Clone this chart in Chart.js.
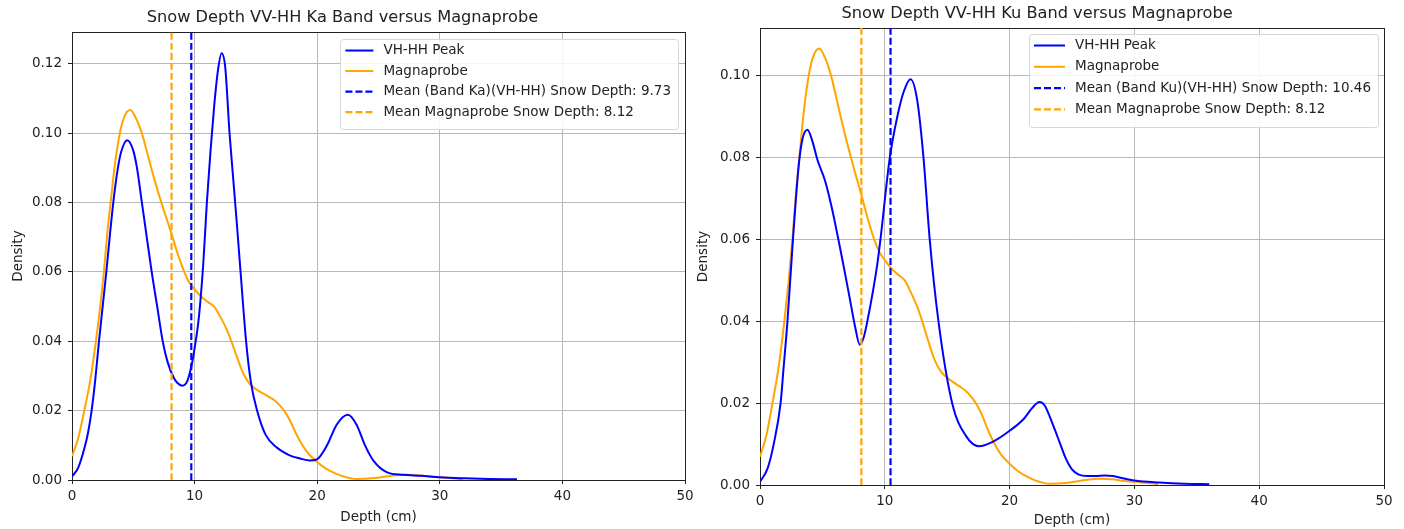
<!DOCTYPE html>
<html>
<head>
<meta charset="utf-8">
<title>Snow depth density</title>
<script src="https://cdn.jsdelivr.net/npm/chart.js@4/dist/chart.umd.min.js"></script>
<style>
  html, body { margin: 0; padding: 0; background: #fff; }
  #wrap { position: relative; width: 1404px; height: 529px; overflow: hidden; }
  canvas { position: absolute; top: 0; }
  #kaChart { left: 0; }
  #kuChart { left: 690px; }
</style>
</head>
<body>
<div id="wrap">
  <canvas id="kaChart" width="700" height="529"></canvas>
  <canvas id="kuChart" width="714" height="529"></canvas>
</div>
<script>
// Ka band VH-HH density (depth cm / density)
const kaDepth = [0, 0.5, 1.0, 1.3, 1.6, 1.9, 2.2, 2.5, 2.8, 3.1, 3.4, 3.7, 4.0, 4.5, 5.0, 5.3, 5.7, 6.1, 6.5, 6.95, 7.4, 7.8, 8.3, 8.6, 9.0, 9.4, 9.75, 10.0, 10.35, 10.7, 11.0, 11.3, 11.6, 11.9, 12.2, 12.5, 12.85, 13.1, 13.4, 13.75, 14.2, 14.6, 15.1, 15.8, 16.65, 17.7, 18.6, 19.4, 20.0, 20.8, 21.6, 22.5, 23.2, 23.9, 24.6, 25.7, 27, 28.5, 30, 32, 34, 36.3];
const kaDensity = [0.001, 0.0035, 0.009, 0.0135, 0.02, 0.029, 0.04, 0.05, 0.06, 0.071, 0.081, 0.089, 0.0945, 0.098, 0.095, 0.09, 0.08, 0.07, 0.06, 0.05, 0.04, 0.034, 0.0295, 0.028, 0.0272, 0.0285, 0.033, 0.038, 0.047, 0.062, 0.08, 0.095, 0.108, 0.118, 0.1231, 0.119, 0.10, 0.089, 0.076, 0.06, 0.04, 0.028, 0.02, 0.013, 0.0095, 0.0072, 0.0062, 0.0056, 0.006, 0.01, 0.016, 0.0188, 0.016, 0.01, 0.0055, 0.0022, 0.0015, 0.0012, 0.0008, 0.0005, 0.0003, 0.0002];

// Ku band VH-HH density
const kuDepth = [0, 0.6, 1.1, 1.65, 1.9, 2.2, 2.64, 3.1, 3.4, 3.8, 4.2, 4.6, 5.2, 5.7, 6.25, 6.7, 7.2, 7.6, 8.0, 8.3, 8.6, 9.4, 9.65, 10.4, 11.0, 11.5, 12.06, 12.6, 13.1, 13.6, 14.3, 15.4, 16.5, 17.55, 18.6, 19.7, 21.15, 21.8, 22.4, 22.8, 23.5, 24.0, 24.5, 25.0, 25.5, 26.2, 26.9, 27.6, 28.3, 29.0, 30, 32, 34, 36];
const kuDensity = [0.0008, 0.004, 0.01, 0.02, 0.029, 0.04, 0.06, 0.078, 0.0845, 0.0868, 0.084, 0.0795, 0.0745, 0.0685, 0.0605, 0.0535, 0.0455, 0.039, 0.0343, 0.036, 0.04, 0.054, 0.06, 0.08, 0.09, 0.096, 0.0992, 0.094, 0.08, 0.06, 0.04, 0.02, 0.012, 0.0095, 0.0105, 0.0126, 0.0162, 0.0188, 0.0203, 0.0195, 0.0145, 0.0105, 0.0065, 0.0038, 0.0026, 0.0022, 0.0022, 0.0023, 0.0022, 0.0017, 0.0011, 0.0006, 0.0003, 0.0002];

// Magnaprobe density (same in both panels)
const magDepth = [0, 0.5, 1.0, 1.5, 1.95, 2.3, 2.6, 2.9, 3.15, 3.5, 3.9, 4.3, 4.75, 5.2, 5.7, 6.2, 6.7, 7.2, 7.7, 8.1, 8.6, 9.1, 9.55, 10.0, 10.5, 11.1, 11.6, 12.1, 12.6, 13.0, 13.5, 14.0, 14.5, 15.0, 15.5, 16.0, 16.5, 17.0, 17.4, 17.8, 18.3, 18.8, 19.3, 19.9, 20.5, 21, 22, 23.2, 24.5, 25.8, 27.2, 28.2, 29.2, 30, 31.9];
const magDensity = [0.0069, 0.012, 0.02, 0.029, 0.04, 0.05, 0.06, 0.072, 0.08, 0.091, 0.10, 0.105, 0.1067, 0.1045, 0.10, 0.0935, 0.087, 0.081, 0.0755, 0.0712, 0.0655, 0.0605, 0.057, 0.055, 0.053, 0.0513, 0.05, 0.047, 0.0436, 0.04, 0.035, 0.0305, 0.0277, 0.0262, 0.0251, 0.0241, 0.023, 0.0213, 0.0195, 0.017, 0.0132, 0.01, 0.0075, 0.0055, 0.0038, 0.0027, 0.0012, 0.0003, 0.0005, 0.0011, 0.0015, 0.0014, 0.001, 0.0008, 0.0002];

// means shown as dashed vertical lines
const kaMean = 9.73;
const kuMean = 10.46;
const magMean = 8.12;

const xTicks = [0, 10, 20, 30, 40, 50];
const yTicksKa = [0, 0.02, 0.04, 0.06, 0.08, 0.10, 0.12];
const yTicksKu = [0, 0.02, 0.04, 0.06, 0.08, 0.10];

const BLUE = '#0000ff';
const ORANGE = '#ffa500';
const FONT = "'DejaVu Sans', sans-serif";

function points(xs, ys) {
  return xs.map((x, i) => ({ x: x, y: ys[i] }));
}

// Top/right spines plus frame
const framePlugin = {
  id: 'frame',
  beforeDatasetsDraw(chart) {
    const { ctx, chartArea: a } = chart;
    ctx.save();
    ctx.strokeStyle = '#222';
    ctx.lineWidth = 1;
    ctx.strokeRect(Math.round(a.left) + 0.5, Math.round(a.top) + 0.5, Math.round(a.right - a.left), Math.round(a.bottom - a.top));
    ctx.restore();
  }
};

// matplotlib style legend in the upper right
const legendPlugin = {
  id: 'mplLegend',
  afterDraw(chart, args, opts) {
    const { ctx, chartArea: a } = chart;
    const items = chart.data.datasets;
    ctx.save();
    ctx.font = '13.5px ' + FONT;
    let textW = 0;
    items.forEach(d => { textW = Math.max(textW, ctx.measureText(d.label).width); });
    const pad = 5, sample = opts.sample, gap = 10, rowH = opts.rowH;
    const w = pad + sample + gap + textW + 7;
    const h = rowH * items.length + 8;
    const x0 = a.right - opts.inset - w;
    const y0 = a.top + opts.inset;
    ctx.fillStyle = 'rgba(255,255,255,0.85)';
    ctx.strokeStyle = '#d6d6d6';
    ctx.lineWidth = 1;
    ctx.beginPath();
    ctx.roundRect(Math.round(x0) + 0.5, Math.round(y0) + 0.5, Math.round(w), Math.round(h), 3);
    ctx.fill();
    ctx.stroke();
    items.forEach((d, i) => {
      const cy = y0 + 11.5 + i * rowH;
      ctx.strokeStyle = d.borderColor;
      ctx.lineWidth = d.borderWidth;
      ctx.setLineDash(d.borderDash || []);
      ctx.beginPath();
      ctx.moveTo(x0 + pad, cy);
      ctx.lineTo(x0 + pad + sample, cy);
      ctx.stroke();
      ctx.setLineDash([]);
      ctx.fillStyle = '#222';
      ctx.textBaseline = 'middle';
      ctx.textAlign = 'left';
      ctx.fillText(d.label, x0 + pad + sample + gap, cy);
    });
    ctx.restore();
  }
};

function makeChart(id, cfg) {
  const datasets = [
    { label: 'VH-HH Peak', data: points(cfg.depth, cfg.density), borderColor: BLUE, borderWidth: 2, order: 2 },
    { label: 'Magnaprobe', data: points(magDepth, magDensity), borderColor: ORANGE, borderWidth: 2, order: 3 },
    { label: cfg.meanLabel, data: [{ x: cfg.mean, y: 0 }, { x: cfg.mean, y: cfg.yMax }], borderColor: BLUE, borderWidth: 2.2, borderDash: [7, 3], tension: 0, order: 0 },
    { label: 'Mean Magnaprobe Snow Depth: ' + magMean.toFixed(2), data: [{ x: magMean, y: 0 }, { x: magMean, y: cfg.yMax }], borderColor: ORANGE, borderWidth: 2.2, borderDash: [7, 3], tension: 0, order: 1 }
  ];
  return new Chart(document.getElementById(id), {
    type: 'line',
    data: { datasets: datasets },
    options: {
      responsive: false,
      devicePixelRatio: 1,
      animation: false,
      events: [],
      layout: { padding: { left: 0, right: cfg.padRight, top: 0, bottom: 0 } },
      elements: {
        point: { radius: 0 },
        line: { tension: 0.4, cubicInterpolationMode: 'monotone', fill: false }
      },
      plugins: {
        legend: { display: false },
        tooltip: { enabled: false },
        title: {
          display: true,
          text: cfg.title,
          color: '#222',
          font: { family: FONT, size: 16.2, weight: 'normal' },
          padding: cfg.titlePad
        },
        mplLegend: cfg.legend
      },
      scales: {
        x: {
          type: 'linear',
          min: 0, max: 50,
          afterBuildTicks: s => { s.ticks = xTicks.map(v => ({ value: v })); },
          afterFit: s => { s.height = cfg.xAxisH; },
          grid: { color: '#b8b8b8', lineWidth: 1, tickColor: '#222', tickLength: 4 },
          border: { display: true, color: '#222', width: 1 },
          ticks: { color: '#222', font: { family: FONT, size: 13.5 }, padding: 4, maxRotation: 0 },
          title: { display: true, text: 'Depth (cm)', color: '#222', font: { family: FONT, size: 13.5 }, padding: { top: 0, bottom: cfg.xTitleBottom } }
        },
        y: {
          type: 'linear',
          min: 0, max: cfg.yMax,
          afterBuildTicks: s => { s.ticks = cfg.yTicks.map(v => ({ value: v })); },
          afterFit: s => { s.width = cfg.yAxisW; },
          grid: { color: '#b8b8b8', lineWidth: 1, tickColor: '#222', tickLength: 4 },
          border: { display: true, color: '#222', width: 1 },
          ticks: { color: '#222', font: { family: FONT, size: 13.5 }, padding: 6, callback: v => v.toFixed(2) },
          title: { display: true, text: 'Density', color: '#222', font: { family: FONT, size: 13.5 }, padding: { top: cfg.yTitleLeft, bottom: 0 } }
        }
      }
    },
    plugins: [framePlugin, legendPlugin]
  });
}

makeChart('kaChart', {
  title: 'Snow Depth VV-HH Ka Band versus Magnaprobe',
  depth: kaDepth, density: kaDensity,
  mean: kaMean, meanLabel: 'Mean (Band Ka)(VH-HH) Snow Depth: ' + kaMean.toFixed(2),
  yMax: 0.1292, yTicks: yTicksKa,
  padRight: 15, yAxisW: 72, xAxisH: 49,
  titlePad: { top: 8, bottom: 4.6 },
  xTitleBottom: 3.9, yTitleLeft: 9.9,
  legend: { inset: 7, sample: 28, rowH: 20.5 }
});

makeChart('kuChart', {
  title: 'Snow Depth VV-HH Ku Band versus Magnaprobe',
  depth: kuDepth, density: kuDensity,
  mean: kuMean, meanLabel: 'Mean (Band Ku)(VH-HH) Snow Depth: ' + kuMean.toFixed(2),
  yMax: 0.1117, yTicks: yTicksKu,
  padRight: 20, yAxisW: 70, xAxisH: 44,
  titlePad: { top: 3.6, bottom: 4.96 },
  xTitleBottom: 0.9, yTitleLeft: 4.9,
  legend: { inset: 6, sample: 31, rowH: 21.3 }
});
</script>
</body>
</html>
